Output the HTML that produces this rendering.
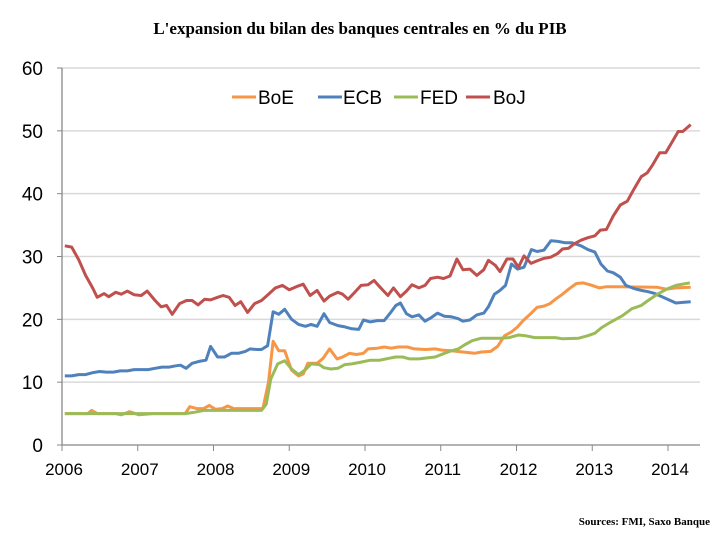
<!DOCTYPE html><html><head><meta charset="utf-8"><style>
body{margin:0;background:#fff;width:727px;height:533px;overflow:hidden}
</style></head><body>
<svg id="s" width="727" height="533" xmlns="http://www.w3.org/2000/svg" font-family="Liberation Sans, sans-serif">
<text x="360" y="34" text-anchor="middle" font-family="Liberation Serif, serif" font-weight="bold" font-size="17">L'expansion du bilan des banques centrales en % du PIB</text>
<text x="710" y="525" text-anchor="end" font-family="Liberation Serif, serif" font-weight="bold" font-size="11">Sources: FMI, Saxo Banque</text>
<g id="g"></g>
</svg>
<script>
var g=document.getElementById('g'),h='';
function Y(v){return 445-v*6.283}
function X(z){return 62+(z-134)/2.16}
for(var i=1;i<=6;i++)h+='<line x1="62" x2="700" y1="'+Y(i*10)+'" y2="'+Y(i*10)+'" stroke="#d9d9d9" stroke-width="1.5"/>';
for(var i=0;i<=6;i++)h+='<text x="43" y="'+(Y(i*10)+7)+'" text-anchor="end" font-size="19">'+(i*10)+'</text><line x1="57" x2="62" y1="'+Y(i*10)+'" y2="'+Y(i*10)+'" stroke="#888"/>';
h+='<line x1="62" x2="62" y1="'+Y(60)+'" y2="445" stroke="#888" stroke-width="1.3"/><line x1="62" x2="700" y1="445" y2="445" stroke="#888" stroke-width="1.3"/>';
for(var i=0;i<=8;i++){var x=62+i*75.75;h+='<line x1="'+x+'" x2="'+x+'" y1="445" y2="451" stroke="#888"/><text x="'+(x+2)+'" y="475" text-anchor="middle" font-size="17">'+(2006+i)+'</text>';}
var D={
boj:[140,31.7,155,31.5,170,29.5,185,27,200,25,210,23.5,225,24.1,235,23.6,250,24.3,262,24,275,24.5,290,23.9,305,23.8,318,24.5,335,23,348,22,360,22.2,372,20.8,388,22.5,403,23,415,23,428,22.3,442,23.2,455,23.1,470,23.5,482,23.8,495,23.5,508,22.2,520,22.8,535,21.1,550,22.5,565,23,580,24,595,25,610,25.4,625,24.7,640,25.2,655,25.6,670,23.8,685,24.6,700,22.9,712,23.7,730,24.3,740,24,752,23.2,765,24.2,780,25.4,795,25.5,808,26.2,820,25.2,838,23.8,850,25,865,23.6,878,24.5,890,25.5,905,25,918,25.4,930,26.5,945,26.7,958,26.5,972,26.9,987,29.6,1000,27.9,1015,28,1030,27,1045,27.9,1055,29.4,1070,28.6,1080,27.6,1095,29.6,1108,29.6,1120,28.3,1132,30.1,1147,28.9,1160,29.3,1175,29.7,1190,29.9,1205,30.5,1215,31.2,1228,31.3,1240,32,1255,32.6,1270,33,1285,33.3,1297,34.2,1310,34.3,1325,36.5,1340,38.2,1355,38.8,1370,40.8,1385,42.7,1398,43.3,1410,44.6,1425,46.5,1438,46.5,1450,48,1465,49.9,1475,49.9,1492,51],
ecb:[140,11,155,11,170,11.2,185,11.2,200,11.5,215,11.7,230,11.6,245,11.6,260,11.8,275,11.8,290,12,305,12,320,12,335,12.2,350,12.4,365,12.4,380,12.6,390,12.7,402,12.2,415,13,430,13.3,445,13.5,455,15.7,470,14,485,14,500,14.6,515,14.6,530,14.9,540,15.3,555,15.2,565,15.2,578,15.8,590,21.2,602,20.8,615,21.6,630,20,645,19.2,660,18.9,672,19.2,685,18.9,700,20.9,712,19.5,730,19,745,18.8,760,18.5,775,18.4,785,19.9,800,19.6,815,19.8,830,19.8,845,21.2,855,22.2,865,22.6,878,20.9,890,20.4,905,20.7,918,19.7,930,20.2,945,21,960,20.5,975,20.4,990,20.1,1000,19.7,1015,19.9,1030,20.7,1045,21,1055,22,1068,24,1080,24.6,1092,25.4,1105,28.8,1118,28,1132,28.3,1148,31.1,1160,30.8,1175,31,1190,32.5,1205,32.4,1220,32.2,1235,32.2,1255,31.7,1270,31.1,1285,30.7,1298,28.8,1312,27.7,1325,27.4,1340,26.7,1352,25.4,1370,24.9,1385,24.6,1400,24.4,1415,24.1,1430,23.6,1445,23.1,1460,22.6,1475,22.7,1492,22.8],
boe:[140,5,190,5,198,5.5,210,5,250,5,262,4.8,280,5.3,300,4.8,330,5,400,5,410,6.1,425,5.8,440,5.8,452,6.3,465,5.7,480,5.8,492,6.2,505,5.8,568,5.8,580,10,590,16.5,602,15,615,15,630,11.9,645,11,655,11.3,665,13,685,13,698,13.8,712,15.3,728,13.7,740,14,755,14.6,770,14.4,785,14.6,795,15.3,815,15.4,830,15.6,845,15.4,860,15.6,880,15.6,895,15.3,920,15.2,940,15.3,955,15.1,975,15,1000,14.8,1025,14.6,1040,14.8,1060,14.9,1075,15.7,1090,17.4,1105,18,1118,18.8,1130,19.8,1145,20.8,1160,21.9,1175,22.1,1188,22.5,1200,23.2,1215,24,1230,24.9,1245,25.7,1260,25.8,1275,25.5,1295,25,1310,25.2,1340,25.2,1420,25.1,1440,24.8,1460,25,1492,25.1],
fed:[140,5,400,5,420,5.2,440,5.5,565,5.5,575,6.5,585,10.5,600,12.9,615,13.4,630,12.1,645,11.2,660,12,672,12.9,690,12.8,700,12.3,715,12.1,730,12.2,745,12.8,760,12.9,780,13.2,800,13.5,820,13.5,840,13.8,855,14,870,14,885,13.7,905,13.7,925,13.9,940,14,960,14.6,975,15,990,15.3,1005,16,1020,16.6,1040,17,1080,17,1100,17.1,1120,17.5,1135,17.4,1155,17.1,1200,17.1,1215,16.9,1250,17,1270,17.4,1285,17.8,1300,18.7,1320,19.6,1345,20.6,1365,21.7,1385,22.2,1400,23,1420,24,1440,24.8,1460,25.4,1490,25.8]};
var C={boe:'#f79646',ecb:'#4f81bd',fed:'#9bbb59',boj:'#c0504d'};
['boe','ecb','fed','boj'].forEach(function(k){var a=D[k],p=[];for(var i=0;i<a.length;i+=2)p.push(X(a[i]).toFixed(1)+','+Y(a[i+1]).toFixed(1));
h+='<polyline points="'+p.join(' ')+'" fill="none" stroke="'+C[k]+'" stroke-width="3" stroke-linejoin="round"/>';});
var L=[['BoE',232,258,'boe'],['ECB',318,343,'ecb'],['FED',394,420,'fed'],['BoJ',466,493,'boj']];
L.forEach(function(l){h+='<line x1="'+l[1]+'" x2="'+(l[1]+24)+'" y1="97" y2="97" stroke="'+C[l[3]]+'" stroke-width="3"/><text x="'+l[2]+'" y="104" font-size="19">'+l[0]+'</text>';});
g.innerHTML=h;
</script>
</body></html>
